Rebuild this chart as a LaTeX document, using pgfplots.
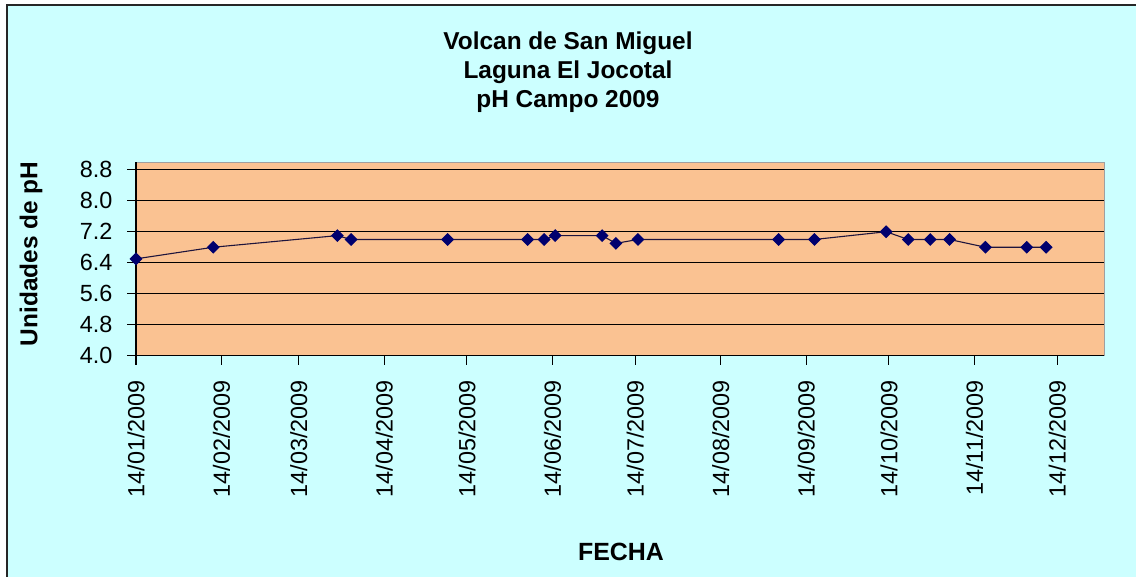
\documentclass[border=0pt]{standalone}
\usepackage{pgfplots}
\pgfplotsset{compat=1.18}
\usepackage{pgfplotstable}
\usepackage{fontspec}
\setmainfont{Liberation Sans}
\definecolor{bgcyan}{RGB}{204,255,255}
\definecolor{plottan}{RGB}{250,194,146}
\definecolor{ser}{RGB}{0,0,110}
\definecolor{serline}{RGB}{30,20,60}
\pgfplotstableread{
day ph
14 6.5
42 6.8
87 7.1
92 7.0
127 7.0
156 7.0
162 7.0
166 7.1
183 7.1
188 6.9
196 7.0
247 7.0
260 7.0
286 7.2
294 7.0
302 7.0
309 7.0
322 6.8
337 6.8
344 6.8
}\phdata
\begin{document}
\begin{tikzpicture}
\path[use as bounding box] (0,0) rectangle (1136bp,-577bp);
\fill[white] (0,0) rectangle (1136bp,-577bp);
\fill[bgcyan] (7bp,-5bp) rectangle (1136bp,-577bp);
\draw[line width=1.6bp, black!85] (7bp,-577bp) -- (7bp,-5bp) -- (1136bp,-5bp);
\begin{axis}[
  at={(136bp,-355.7bp)}, anchor=south west,
  scale only axis, width=968bp, height=193.7bp,
  xmin=14, xmax=365, ymin=4, ymax=9,
  axis background/.style={fill=plottan, draw=gray!75, line width=0.8bp},
  axis lines=left,
  axis line style={-, black, line width=1.3bp},
  xtick={14,45,73,104,134,165,195,226,257,287,318,348},
  xticklabels={14/01/2009,14/02/2009,14/03/2009,14/04/2009,14/05/2009,14/06/2009,14/07/2009,14/08/2009,14/09/2009,14/10/2009,14/11/2009,14/12/2009},
  ytick={4,4.8,5.6,6.4,7.2,8,8.8},
  /pgf/number format/fixed,
  /pgf/number format/fixed zerofill,
  /pgf/number format/precision=1,
  /pgf/number format/assume math mode=true,
  tick align=outside,
  major tick length=9bp,
  tick style={black, line width=1.1bp},
  ymajorgrids,
  grid style={black, line width=1.2bp},
  xticklabel shift=12bp,
  yticklabel shift=11bp,
  x tick label style={rotate=90, anchor=east, font=\fontsize{23.5}{23.5}\selectfont},
  y tick label style={font=\fontsize{23.5}{23.5}\selectfont},
  clip=false,
]
\addplot[color=serline, line width=1.1bp, mark=square*, mark size=4bp,
  mark options={rotate=45, fill=ser, draw=ser}] table[x=day, y=ph] {\phdata};
\end{axis}
\node[anchor=base, font=\bfseries\fontsize{24.5}{24.5}\selectfont] at (568bp,-49.3bp) {Volcan de San Miguel};
\node[anchor=base, font=\bfseries\fontsize{24.5}{24.5}\selectfont] at (568bp,-78.3bp) {Laguna El Jocotal};
\node[anchor=base, font=\bfseries\fontsize{24.5}{24.5}\selectfont] at (568bp,-107.3bp) {pH Campo 2009};
\node[rotate=90, font=\bfseries\fontsize{24.5}{24.5}\selectfont] at (31bp,-254bp) {Unidades de pH};
\node[anchor=base, font=\bfseries\fontsize{25}{25}\selectfont] at (621bp,-560.7bp) {FECHA};
\end{tikzpicture}
\end{document}
